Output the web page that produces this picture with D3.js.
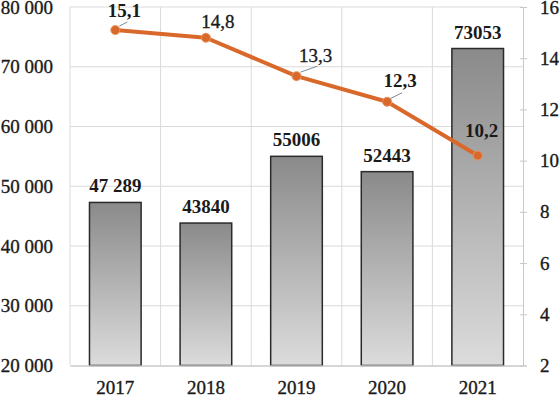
<!DOCTYPE html>
<html><head><meta charset="utf-8">
<script src="https://cdn.jsdelivr.net/npm/d3@7"></script>
<style>body{margin:0;background:#fff}svg{display:block}svg text{font-family:"Liberation Serif","Times New Roman",serif !important;fill:#1a1a1a}</style>
</head><body><svg id="c" width="559" height="396"></svg>
<script>
const years = ["2017","2018","2019","2020","2021"];
const barValues = [47289, 43840, 55006, 52443, 73053];
const barLabels = ["47 289","43840","55006","52443","73053"];
const lineValues = [15.1, 14.8, 13.3, 12.3, 10.2];
const lineLabels = ["15,1","14,8","13,3","12,3","10,2"];
const lineLabelBold = [true, false, false, true, true];
const leftTicks = [20000,30000,40000,50000,60000,70000,80000];
const rightTicks = [2,4,6,8,10,12,14,16];

const svg = d3.select("#c");
const L = 70, R = 523, T = 7, B = 365.5;
const x = d3.scaleBand().domain(years).range([L, R]).paddingInner(0.43).paddingOuter(0.215);
const xb = d3.scaleBand().domain(years).range([L, R]);
const y = d3.scaleLinear().domain([20000, 80000]).range([B, T]);
const y2 = d3.scaleLinear().domain([2, 16]).range([B, T]);

const defs = svg.append("defs");
const g = defs.append("linearGradient").attr("id","bg").attr("x1",0).attr("y1",0).attr("x2",0).attr("y2",1);
g.append("stop").attr("offset","0%").attr("stop-color","#8a8a8a");
g.append("stop").attr("offset","100%").attr("stop-color","#dcdcdc");

svg.append("g").selectAll("line").data(leftTicks.slice(1)).join("line")
  .attr("x1", L).attr("x2", R).attr("y1", d => y(d)).attr("y2", d => y(d))
  .attr("stroke", "#dadada").attr("stroke-width", 1);
svg.append("g").selectAll("line").data(years).join("line")
  .attr("x1", d => xb(d)).attr("x2", d => xb(d)).attr("y1", T).attr("y2", B)
  .attr("stroke", "#dadada").attr("stroke-width", 1);

const serif = "'Liberation Serif', 'Times New Roman', serif";
function styleText(sel) {
  sel.attr("font-size", 19).style("font-family", serif)
    .attr("stroke", "#1a1a1a").attr("stroke-width", 0.35);
}
const ya = d3.axisLeft(y).tickValues(leftTicks).tickSize(0).tickPadding(17)
  .tickFormat(d => d3.format(",")(d).replace(/,/g, " "));
const gya = svg.append("g").attr("transform", `translate(${L},0)`).call(ya).attr("font-family", serif);
gya.select(".domain").remove();
styleText(gya.selectAll("text"));

const y2a = d3.axisRight(y2).tickValues(rightTicks).tickSize(4).tickPadding(13);
const gy2 = svg.append("g").attr("transform", `translate(${R},0)`).call(y2a).attr("font-family", serif);
gy2.select(".domain").attr("stroke", "#c8c8c8");
gy2.selectAll(".tick line").attr("stroke", "#c8c8c8").attr("x1", -3);
styleText(gy2.selectAll("text"));

svg.append("g").selectAll("rect").data(years).join("rect")
  .attr("x", d => x(d)).attr("width", x.bandwidth())
  .attr("y", (d, i) => y(barValues[i])).attr("height", (d, i) => B - y(barValues[i]))
  .attr("fill", "url(#bg)").attr("stroke", "#2a2a2a").attr("stroke-width", 1.5);

const xa = d3.axisBottom(xb).tickSize(0).tickPadding(15);
const gxa = svg.append("g").attr("transform", `translate(0,${B})`).call(xa).attr("font-family", serif);
gxa.select(".domain").attr("stroke", "#c8c8c8").attr("stroke-width", 1.5);
styleText(gxa.selectAll("text"));

svg.append("g").selectAll("text").data(years).join("text")
  .attr("x", d => x(d) + x.bandwidth() / 2).attr("y", (d, i) => y(barValues[i]) - 10)
  .attr("text-anchor", "middle").attr("font-size", 19).attr("font-weight", "bold")
  .style("font-family", serif)
  .text((d, i) => barLabels[i]);

const cx = d => xb(d) + xb.bandwidth() / 2;
const line = d3.line().x((d, i) => cx(years[i])).y(d => y2(d));
svg.append("path").datum(lineValues).attr("d", line)
  .attr("fill", "none").attr("stroke", "#d9692b").attr("stroke-width", 4).attr("stroke-linejoin", "round");
svg.append("g").selectAll("circle").data(lineValues).join("circle")
  .attr("cx", (d, i) => cx(years[i])).attr("cy", d => y2(d)).attr("r", 4.5)
  .attr("fill", "#d9692b").attr("stroke", "#e8925e").attr("stroke-width", 1);

const off = [[9, -13], [12, -10], [19, -14], [13, -15], [4, -19]];
const lead = [[[4, -4], [12, -8]], null, [[4, -4], [21, -10]], [[3, -3], [15, -9]], null];
const leadData = lineValues.map((v, i) => ({v, i})).filter(d => lead[d.i]);
svg.append("g").selectAll("line").data(leadData).join("line")
  .attr("x1", d => cx(years[d.i]) + lead[d.i][0][0]).attr("y1", d => y2(d.v) + lead[d.i][0][1])
  .attr("x2", d => cx(years[d.i]) + lead[d.i][1][0]).attr("y2", d => y2(d.v) + lead[d.i][1][1])
  .attr("stroke", "#7a8a99").attr("stroke-width", 1);
svg.append("g").selectAll("text").data(lineValues).join("text")
  .attr("x", (d, i) => cx(years[i]) + off[i][0]).attr("y", (d, i) => y2(d) + off[i][1])
  .attr("text-anchor", "middle").attr("font-size", 19)
  .attr("font-weight", (d, i) => lineLabelBold[i] ? "bold" : "normal")
  .attr("stroke", (d, i) => lineLabelBold[i] ? "none" : "#1a1a1a").attr("stroke-width", 0.35)
  .style("font-family", serif)
  .text((d, i) => lineLabels[i]);
</script></body></html>
